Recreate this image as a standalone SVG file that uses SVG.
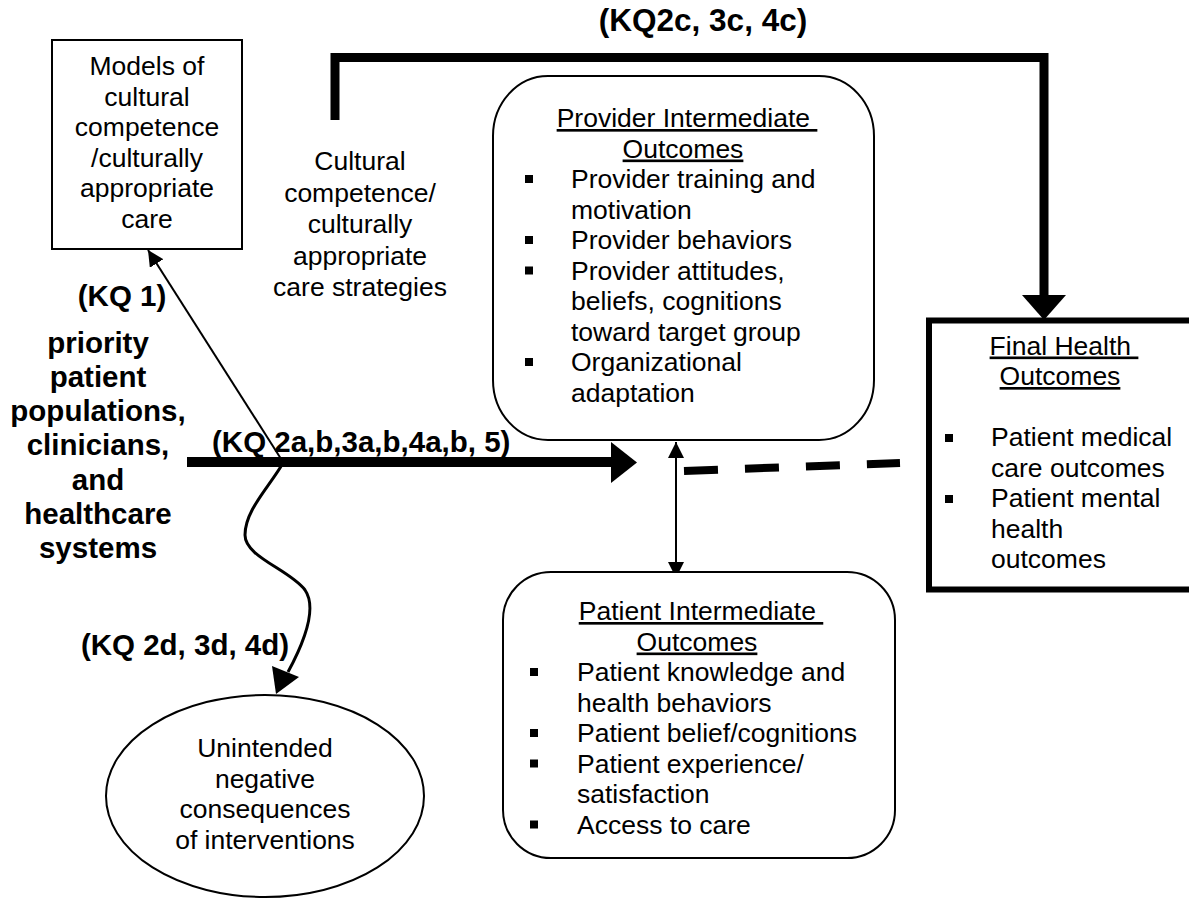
<svg xmlns="http://www.w3.org/2000/svg" width="1189" height="900" viewBox="0 0 1189 900">
<style>
.t{font-family:"Liberation Sans",Arial,sans-serif;font-size:26.5px;fill:#000}
.b{font-family:"Liberation Sans",Arial,sans-serif;font-size:29.5px;font-weight:bold;fill:#000}
.c{text-anchor:middle}
.u{text-decoration:underline;white-space:pre}
.box{fill:#fff;stroke:#000;stroke-width:2}
.thin{fill:none;stroke:#000;stroke-width:2}
.thick{fill:none;stroke:#000;stroke-width:9}
</style>
<defs>
<marker id="ah" markerUnits="userSpaceOnUse" markerWidth="18" markerHeight="16" refX="16" refY="8" orient="auto-start-reverse" viewBox="0 0 18 16">
<path d="M0,0 L16,8 L0,16 z" fill="#000"/>
</marker>
</defs>
<rect width="1189" height="900" fill="#fff"/>

<g id="connectors">
<!-- top bracket -->
<polyline class="thick" points="335,120 335,57.5 1044,57.5 1044,296" stroke-linejoin="miter"/>
<polygon points="1022,295 1066,295 1044,320" fill="#000"/>
<!-- main arrow -->
<line x1="187" y1="462" x2="612" y2="462" stroke="#000" stroke-width="10"/>
<polygon points="611,442 637,462.5 611,483" fill="#000"/>
<!-- KQ1 thin arrow -->
<line class="thin" x1="283" y1="462" x2="148" y2="250" marker-end="url(#ah)"/>
<!-- wavy arrow -->
<path d="M283,463 C270,486 245,510 245,535 C245,557 290,570 305,590 C316,606 308,635 288,672" fill="none" stroke="#000" stroke-width="3"/>
<polygon points="276,694 272,666 299,677" fill="#000"/>
<!-- double arrow -->
<line class="thin" x1="676" y1="442" x2="676" y2="578" marker-start="url(#ah)" marker-end="url(#ah)"/>
<!-- dashed -->
<line x1="684" y1="471" x2="900" y2="463" stroke="#000" stroke-width="8" stroke-dasharray="34 27"/>
</g>

<g id="models">
<rect class="box" x="52" y="40" width="190" height="209"/>
<text class="t c" x="147" y="75">Models of</text>
<text class="t c" x="147" y="105.5">cultural</text>
<text class="t c" x="147" y="136">competence</text>
<text class="t c" x="147" y="166.5">/culturally</text>
<text class="t c" x="147" y="197">appropriate</text>
<text class="t c" x="147" y="227.5">care</text>
</g>

<g id="strategies">
<text class="t c" x="360" y="170">Cultural</text>
<text class="t c" x="360" y="201.5">competence/</text>
<text class="t c" x="360" y="233">culturally</text>
<text class="t c" x="360" y="264.5">appropriate</text>
<text class="t c" x="360" y="296">care strategies</text>
</g>

<g id="population">
<text class="b c" x="98" y="353">priority</text>
<text class="b c" x="98" y="387">patient</text>
<text class="b c" x="98" y="421">populations,</text>
<text class="b c" x="98" y="455">clinicians,</text>
<text class="b c" x="98" y="490">and</text>
<text class="b c" x="98" y="524">healthcare</text>
<text class="b c" x="98" y="558">systems</text>
</g>

<g id="labels">
<text class="b c" x="703" y="31" style="font-size:31.5px">(KQ2c, 3c, 4c)</text>
<text class="b c" x="122" y="306">(KQ 1)</text>
<text class="b" x="212" y="452">(KQ 2a,b,3a,b,4a,b, 5)</text>
<text class="b c" x="185" y="655">(KQ 2d, 3d, 4d)</text>
</g>

<g id="provider">
<rect class="box" x="493" y="76" width="381" height="364" rx="55" ry="60"/>
<text class="t c u" x="687" y="127">Provider Intermediate </text>
<text class="t c u" x="683" y="157.5">Outcomes</text>
<rect x="525" y="175" width="8" height="8"/>
<text class="t" x="571" y="188">Provider training and</text>
<text class="t" x="571" y="218.5">motivation</text>
<rect x="525" y="236" width="8" height="8"/>
<text class="t" x="571" y="249">Provider behaviors</text>
<rect x="525" y="266.5" width="8" height="8"/>
<text class="t" x="571" y="279.5">Provider attitudes,</text>
<text class="t" x="571" y="310">beliefs, cognitions</text>
<text class="t" x="571" y="340.5">toward target group</text>
<rect x="525" y="358" width="8" height="8"/>
<text class="t" x="571" y="371">Organizational</text>
<text class="t" x="571" y="401.5">adaptation</text>
</g>

<g id="patient">
<rect class="box" x="503" y="572" width="392" height="286" rx="48" ry="48"/>
<text class="t c u" x="701" y="620">Patient Intermediate </text>
<text class="t c u" x="697" y="650.5">Outcomes</text>
<rect x="530" y="668" width="8" height="8"/>
<text class="t" x="577" y="681">Patient knowledge and</text>
<text class="t" x="577" y="711.5">health behaviors</text>
<rect x="530" y="729" width="8" height="8"/>
<text class="t" x="577" y="742">Patient belief/cognitions</text>
<rect x="530" y="759.5" width="8" height="8"/>
<text class="t" x="577" y="772.5">Patient experience/</text>
<text class="t" x="577" y="803">satisfaction</text>
<rect x="530" y="820.5" width="8" height="8"/>
<text class="t" x="577" y="833.5">Access to care</text>
</g>

<g id="final">
<rect x="929" y="320.5" width="300" height="269" fill="#fff" stroke="#000" stroke-width="6"/>
<text class="t c u" x="1064" y="354.5">Final Health </text>
<text class="t c u" x="1060" y="385">Outcomes</text>
<rect x="945" y="434" width="8" height="8"/>
<text class="t" x="991" y="446">Patient medical</text>
<text class="t" x="991" y="476.5">care outcomes</text>
<rect x="945" y="495" width="8" height="8"/>
<text class="t" x="991" y="507">Patient mental</text>
<text class="t" x="991" y="537.5">health</text>
<text class="t" x="991" y="568">outcomes</text>
</g>

<g id="unintended">
<ellipse class="box" cx="265" cy="796" rx="159" ry="101"/>
<text class="t c" x="265" y="757">Unintended</text>
<text class="t c" x="265" y="787.5">negative</text>
<text class="t c" x="265" y="818">consequences</text>
<text class="t c" x="265" y="848.5">of interventions</text>
</g>
</svg>
